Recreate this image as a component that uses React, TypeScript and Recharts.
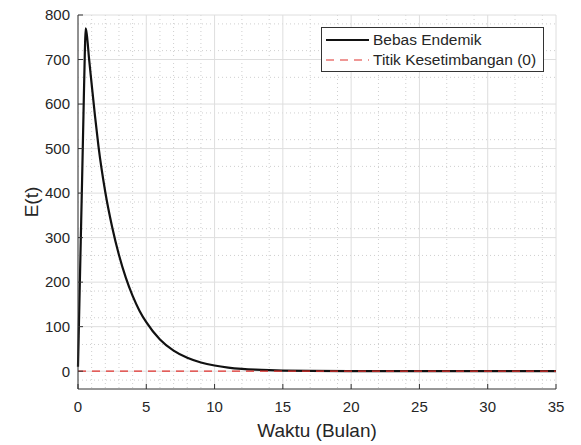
import { LineChart, Line, XAxis, YAxis, CartesianGrid, Label } from "recharts";

// waktu (bulan) and E(t)
const times = [0, 0.1, 0.2, 0.3, 0.4, 0.5, 0.56, 0.65, 0.8, 1.0, 1.25, 1.5, 2.0, 2.5, 3.0, 3.5, 4.0, 4.5, 5.0, 6.0, 7.0, 8.0, 9.0, 10, 11, 12, 13, 14, 15, 17, 20, 25, 30, 35];
const eValues = [10, 150, 290, 430, 575, 715, 770, 755, 705, 645, 572, 505, 402, 324, 261, 210, 169, 136, 110, 71, 46, 30, 19.5, 12.7, 8.2, 5.3, 3.4, 2.2, 1.4, 0.6, 0.2, 0, 0, 0];
const eqValues = times.map(() => 0);

const xTicks = [0, 5, 10, 15, 20, 25, 30, 35];
const yTicks = [0, 100, 200, 300, 400, 500, 600, 700, 800];
const xMinor = Array.from({ length: 36 }, (_, i) => i).filter((v) => v % 5 !== 0);
const yMinor = Array.from({ length: 43 }, (_, i) => -40 + i * 20).filter((v) => v % 100 !== 0);

const seriesNames = ["Bebas Endemik", "Titik Kesetimbangan (0)"];

const data = times.map((t, i) => ({ t, e: eValues[i], eq: eqValues[i] }));

const FONT = "'Liberation Sans', Arial, Helvetica, sans-serif";
const TXT = "#262626";
const RED = "#e0302d";

function LegendBox() {
  return (
    <div
      style={{
        position: "absolute",
        left: 321,
        top: 27,
        border: "1px solid #333",
        background: "#fff",
        width: 223,
        height: 45,
        boxSizing: "border-box",
        fontFamily: FONT,
        fontSize: 15.5,
        color: TXT,
        padding: "2px 0 0 4px",
      }}
    >
      <div style={{ display: "flex", alignItems: "center", height: 20 }}>
        <svg width={43} height={6}>
          <line x1={0} y1={3} x2={43} y2={3} stroke="#111" strokeWidth={2} />
        </svg>
        <span style={{ marginLeft: 4 }}>{seriesNames[0]}</span>
      </div>
      <div style={{ display: "flex", alignItems: "center", height: 20 }}>
        <svg width={43} height={6}>
          <line x1={0} y1={3} x2={43} y2={3} stroke={RED} strokeWidth={1.2} strokeDasharray="8 6" />
        </svg>
        <span style={{ marginLeft: 4 }}>{seriesNames[1]}</span>
      </div>
    </div>
  );
}

export default function App() {
  return (
    <div style={{ position: "absolute", left: 0, top: 0, width: 581, height: 445, background: "#fff" }}>
      <LineChart
        width={581}
        height={445}
        data={data}
        margin={{ top: 15, right: 25, left: 28, bottom: 26 }}
      >
        <CartesianGrid
          stroke="#cfcfcf"
          strokeDasharray="1 3"
          horizontalValues={yMinor}
          verticalValues={xMinor}
        />
        <CartesianGrid stroke="#dedede" horizontalValues={yTicks} verticalValues={xTicks} />
        <XAxis
          dataKey="t"
          type="number"
          domain={[0, 35]}
          ticks={xTicks}
          height={30}
          tickSize={-5}
          tickMargin={17}
          stroke="#333"
          tick={{ fill: TXT, fontSize: 15, fontFamily: FONT }}
        >
          <Label
            value="Waktu (Bulan)"
            position="bottom"
            offset={5}
            style={{ fill: TXT, fontSize: 19, fontFamily: FONT }}
          />
        </XAxis>
        <YAxis
          type="number"
          domain={[-40, 800]}
          ticks={yTicks}
          width={50}
          tickSize={-5}
          tickMargin={13}
          stroke="#333"
          tick={{ fill: TXT, fontSize: 15, fontFamily: FONT }}
        >
          <Label
            value="E(t)"
            angle={-90}
            position="left"
            offset={-3}
            style={{ fill: TXT, fontSize: 19, fontFamily: FONT, textAnchor: "middle" }}
          />
        </YAxis>
        <Line
          dataKey="e"
          name={seriesNames[0]}
          type="monotone"
          stroke="#111"
          strokeWidth={2.2}
          dot={false}
          isAnimationActive={false}
        />
        <Line
          dataKey="eq"
          name={seriesNames[1]}
          type="linear"
          stroke={RED}
          strokeWidth={1.2}
          strokeDasharray="8 6"
          dot={false}
          isAnimationActive={false}
        />
      </LineChart>
      <LegendBox />
    </div>
  );
}
